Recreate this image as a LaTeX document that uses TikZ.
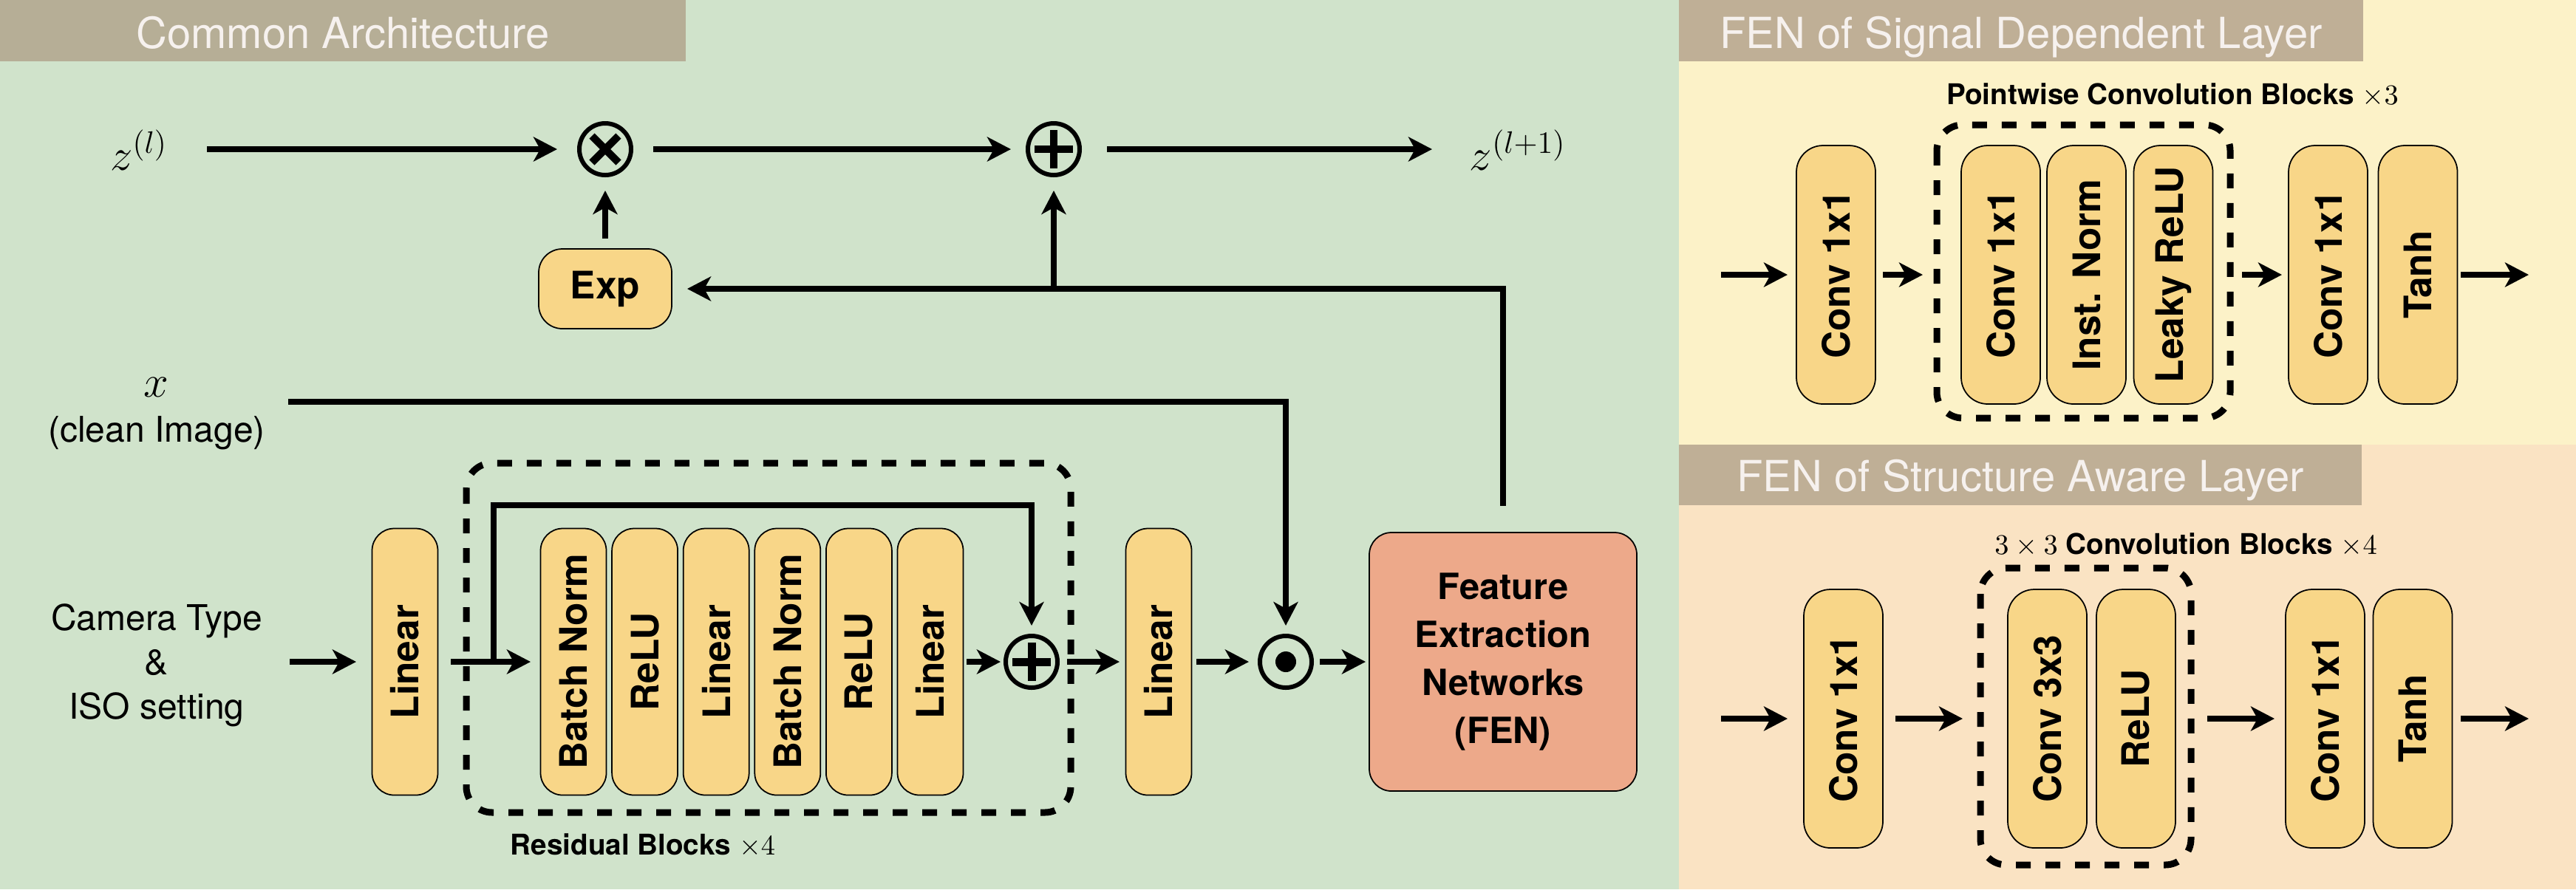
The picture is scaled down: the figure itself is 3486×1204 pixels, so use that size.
\documentclass[tikz,border=0pt]{standalone}
\usepackage{fontspec}
\setmainfont{TeX Gyre Heros}
\usetikzlibrary{arrows.meta}
\definecolor{bggreen}{HTML}{D0E3CB}
\definecolor{bgyellow}{HTML}{FCF2C8}
\definecolor{bgpeach}{HTML}{FAE3C3}
\definecolor{bandL}{HTML}{B6AE96}
\definecolor{bandR}{HTML}{BFAF96}
\definecolor{titletxt}{HTML}{F6F1EE}
\definecolor{boxyellow}{HTML}{F8D688}
\definecolor{fensalmon}{HTML}{EDA98A}
\tikzset{
  arr/.style={line width=0.75mm, -{Stealth[length=3.2mm,width=3.3mm,inset=0.9mm]}},
  vbox/.style={draw=black, line width=0.5pt, fill=boxyellow, rounded corners=3mm, rotate=90,
    minimum width=36.1mm, minimum height=8.9mm, inner sep=0pt,
    font=\fontsize{14.6}{17}\selectfont\bfseries},
  rbox/.style={vbox, rounded corners=3.6mm, minimum width=35mm, minimum height=10.7mm},
  opc/.style={circle, draw=black, line width=0.6mm, minimum size=7.0mm, inner sep=0pt},
  dashbox/.style={draw=black, line width=0.9mm, dash pattern=on 2mm off 2mm, rounded corners=3.5mm},
  titletext/.style={anchor=base, text=titletxt, font=\fontsize{16.5}{19}\selectfont},
  lbl/.style={font=\fontsize{13.66}{17.07}\selectfont, align=center},
  blk/.style={anchor=base, font=\fontsize{11}{13}\selectfont\bfseries},
  mathlbl/.style={anchor=base, font=\fontsize{18}{21}\selectfont},
}
\begin{document}
\begin{tikzpicture}[x=0.1mm, y=-0.1mm]
\useasboundingbox (0,0) rectangle (3486,1204);
% backgrounds
\fill[bggreen] (0,0) rectangle (2272,1204);
\fill[bgyellow] (2272,0) rectangle (3486,602);
\fill[bgpeach] (2272,602) rectangle (3486,1204);
\fill[bandL] (0,0) rectangle (928,83);
\fill[bandR] (2272,0) rectangle (3198,83);
\fill[bandR] (2272,602) rectangle (3196,684);
\node[titletext] (tcommon) at (464,65) {Common Architecture};
\node[titletext] (tsig) at (2735,65) {FEN of Signal Dependent Layer};
\node[titletext] (tstr) at (2734,665) {FEN of Structure Aware Layer};

% ---------- Common architecture ----------
\node[mathlbl] (zl) at (188,230) {$z^{(l)}$};
\node[mathlbl] (zl1) at (2054,230) {$z^{(l+1)}$};
\node[opc] (mul) at (819,202) {};
\draw[line width=1mm, shift={(mul.center)}] (-18,-18) -- (18,18) (-18,18) -- (18,-18);
\node[opc] (add) at (1426,202) {};
\draw[line width=1mm, shift={(add.center)}] (-26,0) -- (26,0) (0,-26) -- (0,26);
\node[draw=black, line width=0.5pt, fill=boxyellow, rounded corners=3.2mm, minimum width=18mm,
  minimum height=10.8mm, font=\fontsize{14.6}{17}\selectfont\bfseries] (exp) at (819,391) {Exp};

\node[mathlbl] (xlab) at (211,537) {$x$};
\node[lbl, anchor=base] (clean) at (212,598) {(clean Image)};
\node[lbl] (cam) at (212,901) {Camera Type\\\&\\ISO setting};

\node[vbox] (lin1) at (548,896) {Linear};
\node[vbox] (bn1) at (776,896) {Batch Norm};
\node[vbox] (re1) at (872.6,896) {ReLU};
\node[vbox] (lin2) at (969.2,896) {Linear};
\node[vbox] (bn2) at (1065.8,896) {Batch Norm};
\node[vbox] (re2) at (1162.4,896) {ReLU};
\node[vbox] (lin3) at (1259,896) {Linear};
\node[vbox] (lin4) at (1568,896) {Linear};
\node[opc] (add2) at (1396,896) {};
\draw[line width=1.1mm, shift={(add2.center)}] (-26,0) -- (26,0) (0,-26) -- (0,26);
\node[opc] (odot) at (1740,896) {};
\fill[shift={(odot.center)}] (0,0) circle (1.4mm);
\node[draw=black, line width=0.5pt, fill=fensalmon, rounded corners=3mm, minimum width=36.2mm,
  minimum height=35mm, align=center, font=\fontsize{13.9}{18.5}\selectfont\bfseries]
  (fen) at (2034,896) {Feature\\Extraction\\Networks\\(FEN)};

\draw[dashbox] (631,627) rectangle (1449,1100);
\node[blk] (resl) at (870,1157) {Residual Blocks $\times 4$};

% connectors
\coordinate (zlstart) at (280,202);
\draw[arr, shorten >=6.5mm] (zlstart) -- (mul.center);
\draw[arr, shorten <=6.5mm, shorten >=5.8mm] (mul.center) -- (add.center);
\draw[arr, shorten <=7.2mm, shorten >=11.6mm] (add.center) -- (add.center -| zl1.center);
\draw[arr, shorten <=6.8mm, shorten >=5.6mm] (exp.center) -- (mul.center);
\draw[arr, shorten <=3.5mm, shorten >=11.1mm] (fen.north) |- (exp.center);
\coordinate (jn) at (add.center |- exp.center);
\draw[arr, shorten >=5.6mm] (jn) -- (add.center);

\coordinate (xstart) at (390,544);
\draw[arr, shorten >=4.9mm] (xstart) -| (odot.center);
\coordinate (camstart) at (392,896);
\draw[arr, shorten >=6.6mm] (camstart) -- (lin1.center);
\draw[arr, shorten <=6.2mm, shorten >=5.8mm] (lin1.center) -- (bn1.center);
\coordinate (sk) at (668,896);
\coordinate (sktop) at (1396,684);
\draw[arr, shorten >=4.9mm] (sk) |- (sktop) -- (add2.center);
\draw[arr, shorten <=4.9mm, shorten >=4.2mm] (lin3.center) -- (add2.center);
\draw[arr, shorten <=4.8mm, shorten >=5.3mm] (add2.center) -- (lin4.center);
\draw[arr, shorten <=5.1mm, shorten >=5.0mm] (lin4.center) -- (odot.center);
\draw[arr, shorten <=4.6mm, shorten >=18.6mm] (odot.center) -- (fen.center);

% ---------- FEN of signal dependent layer ----------
\node[blk] (pwl) at (2940,141) {Pointwise Convolution Blocks $\times 3$};
\draw[dashbox] (2621,169) rectangle (3018,566);
\node[rbox] (c1) at (2484.5,372) {Conv 1x1};
\node[rbox] (b1) at (2707.5,372) {Conv 1x1};
\node[rbox] (b2) at (2823.5,372) {Inst. Norm};
\node[rbox] (b3) at (2941,372) {Leaky ReLU};
\node[rbox] (c2) at (3150.5,372) {Conv 1x1};
\node[rbox] (th1) at (3272,372) {Tanh};
\coordinate (in1) at (2329,372);
\coordinate (out1) at (3422,372);
\draw[arr, shorten >=6.55mm] (in1) -- (c1.center);
\draw[arr, shorten <=6.35mm, shorten >=10.55mm] (c1.center) -- (b1.center);
\draw[arr, shorten <=9.3mm, shorten >=6.25mm] (b3.center) -- (c2.center);
\draw[arr, shorten <=5.8mm] (th1.center) -- (out1);

% ---------- FEN of structure aware layer ----------
\node[blk] (cvl) at (2958,750) {$3\times3$ Convolution Blocks $\times 4$};
\draw[dashbox] (2680,769) rectangle (2965,1171);
\node[rbox] (d1) at (2494.5,973) {Conv 1x1};
\node[rbox] (e1) at (2770.5,973) {Conv 3x3};
\node[rbox] (e2) at (2890.5,973) {ReLU};
\node[rbox] (f1) at (3146.5,973) {Conv 1x1};
\node[rbox] (th2) at (3265,973) {Tanh};
\coordinate (in2) at (2329,973);
\coordinate (out2) at (3422,973);
\draw[arr, shorten >=7.55mm] (in2) -- (d1.center);
\draw[arr, shorten <=7.05mm, shorten >=11.45mm] (d1.center) -- (e1.center);
\draw[arr, shorten <=9.65mm, shorten >=6.85mm] (e2.center) -- (f1.center);
\draw[arr, shorten <=6.5mm] (th2.center) -- (out2);
\end{tikzpicture}
\end{document}
